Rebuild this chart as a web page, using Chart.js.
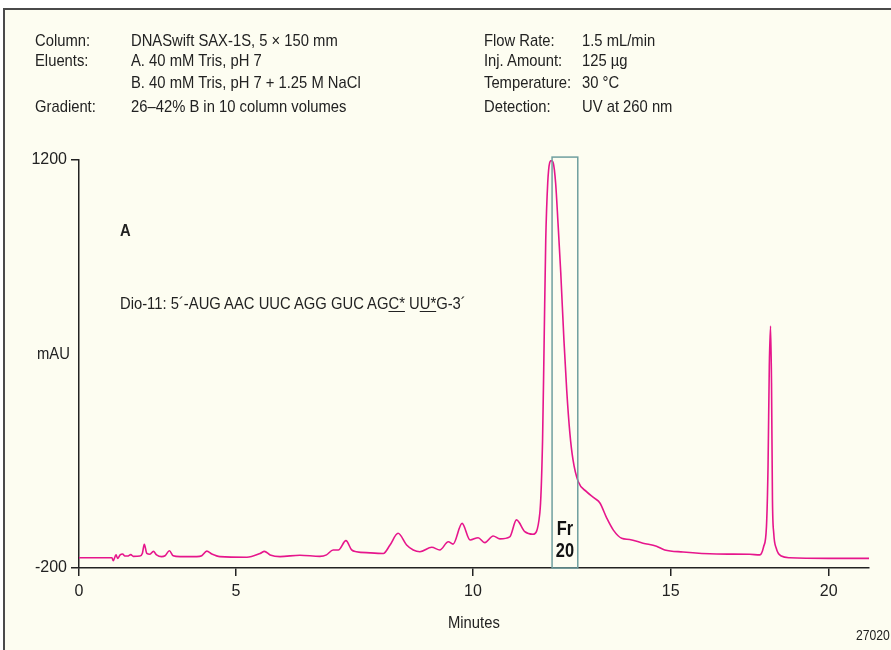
<!DOCTYPE html>
<html>
<head>
<meta charset="utf-8">
<script src="https://cdn.jsdelivr.net/npm/chart.js@4/dist/chart.umd.min.js"></script>
<style>
  body { margin: 0; background: #fff; }
  #wrap { position: relative; width: 891px; height: 650px; overflow: hidden; }
  #frame { position: absolute; left: 3px; top: 8px; width: 900px; height: 660px;
           background: #fdfdf1; border-left: 2px solid #4a4a4a; border-top: 2px solid #4a4a4a; }
  #chart { position: absolute; left: 0; top: 0; }
  /* condensed look: squeeze a plain sans horizontally */
  .t { position: absolute; font: 17px "Liberation Sans", Arial, sans-serif; color: #222;
       white-space: nowrap; line-height: 17px; transform: scaleX(0.87); transform-origin: 0 0; }
  .b { font-weight: bold; }
  u { text-decoration-thickness: 1px; text-underline-offset: 2px; }
</style>
</head>
<body>
<div id="wrap">
  <div id="frame"></div>
  <canvas id="chart" width="891" height="650"></canvas>

  <div class="t" style="left:35px;top:32px">Column:</div>
  <div class="t" style="left:131px;top:32px">DNASwift SAX-1S, 5 × 150 mm</div>
  <div class="t" style="left:35px;top:52px">Eluents:</div>
  <div class="t" style="left:131px;top:52px">A. 40 mM Tris, pH 7</div>
  <div class="t" style="left:131px;top:74px">B. 40 mM Tris, pH 7 + 1.25 M NaCl</div>
  <div class="t" style="left:35px;top:98px">Gradient:</div>
  <div class="t" style="left:131px;top:98px">26–42% B in 10 column volumes</div>

  <div class="t" style="left:484px;top:32px">Flow Rate:</div>
  <div class="t" style="left:582px;top:32px">1.5 mL/min</div>
  <div class="t" style="left:484px;top:52px">Inj. Amount:</div>
  <div class="t" style="left:582px;top:52px">125 µg</div>
  <div class="t" style="left:484px;top:74px">Temperature:</div>
  <div class="t" style="left:582px;top:74px">30 °C</div>
  <div class="t" style="left:484px;top:98px">Detection:</div>
  <div class="t" style="left:582px;top:98px">UV at 260 nm</div>

  <div class="t b" style="left:120px;top:222px">A</div>
  <div class="t" style="left:120px;top:295px">Dio-11: 5´-AUG AAC UUC AGG GUC AG<u>C*</u> U<u>U*</u>G-3´</div>
  <div class="t" style="left:37px;top:345px">mAU</div>
  <div class="t" style="left:448px;top:614px">Minutes</div>
  <div class="t" style="left:856px;top:628px;font-size:14px;line-height:14px">27020</div>
</div>

<script>
// chromatogram trace: retention time (min) and absorbance (mAU)
const minutes = [
  0, 1.05, 1.09, 1.18, 1.23, 1.31, 1.39, 1.46, 1.55, 1.65, 1.73, 1.94, 2.02, 2.08, 2.16, 2.26,
  2.37, 2.47, 2.63, 2.74, 2.88, 3.0, 3.22, 3.75, 3.91, 4.07, 4.23, 4.49, 5.23, 5.51, 5.6, 5.72,
  5.93, 6.35, 6.77, 6.91, 7.05, 7.16, 7.32, 7.44, 7.54, 7.83, 8.11, 8.25, 8.42, 8.6, 8.74, 8.88,
  9.13, 9.3, 9.48, 9.58, 9.77, 9.94, 10.13, 10.3, 10.51, 10.68, 10.93, 11.1, 11.31, 11.52, 11.69,
  11.76, 11.8, 11.84, 11.89, 11.94, 11.98, 12.03, 12.09, 12.15, 12.22, 12.3, 12.37, 12.45, 12.53,
  12.66, 12.87, 13.08, 13.21, 13.38, 13.55, 13.76, 13.96, 14.3, 14.64, 14.85, 15.39, 16.45, 17.5,
  17.82, 17.94, 18.03, 18.08, 18.12, 18.16, 18.19, 18.22, 18.26, 18.34, 18.5, 18.77, 20.0, 21.27
];
const absorbance = [
  -165, -165, -175, -155, -167, -155, -152, -159, -159, -154, -160, -159, -149, -119, -150, -153,
  -143, -155, -161, -158, -141, -158, -161, -161, -158, -142, -152, -161, -163, -150, -143, -155,
  -161, -156, -160, -155, -138, -138, -106, -138, -144, -148, -150, -121, -81, -121, -138, -144,
  -129, -138, -110, -118, -47, -104, -96, -113, -90, -100, -93, -35, -75, -84, -12,
  239, 582, 925, 1121, 1191, 1198, 1190, 1121, 984, 812, 582, 411, 263, 171,
  97, 62, 39, 23, -28, -70, -98, -102, -115, -125, -138, -145, -152, -153,
  -155, -127, -58, 148, 491, 630, 435, 33, -80, -132, -159, -165, -167, -167
];
const xTicks = [0, 5, 10, 15, 20];
const yTicks = [-200, 1200];
const fraction = { from: 12.0, to: 12.65, top: 1210, label: ['Fr', '20'] };

const FONT = '"Liberation Sans", Arial, sans-serif';
const INK = '#222';

// time axis of the recorder printout is not evenly spaced between labels
const STOPS = [[0, 0], [5, 0.1987], [10, 0.4987], [15, 0.749], [20, 0.949], [21.27, 1]];
function minToDec(v) {
  for (let i = 1; i < STOPS.length; i++) {
    const [a, fa] = STOPS[i - 1], [b, fb] = STOPS[i];
    if (v <= b || i === STOPS.length - 1) return fa + (v - a) / (b - a) * (fb - fa);
  }
}
function decToMin(d) {
  for (let i = 1; i < STOPS.length; i++) {
    const [a, fa] = STOPS[i - 1], [b, fb] = STOPS[i];
    if (d <= fb || i === STOPS.length - 1) return a + (d - fa) / (fb - fa) * (b - a);
  }
}
class MinuteScale extends Chart.LinearScale {
  getPixelForValue(value) {
    return value === null ? NaN : this.getPixelForDecimal(minToDec(value));
  }
  getValueForPixel(pixel) {
    return decToMin(this.getDecimalForPixel(pixel));
  }
}
MinuteScale.id = 'minutes';
MinuteScale.defaults = Chart.LinearScale.defaults;
Chart.register(MinuteScale);

// collected fraction: outlined box with its number
const fractionBox = {
  id: 'fractionBox',
  afterDatasetsDraw(chart) {
    const { ctx, scales: { x, y } } = chart;
    const l = x.getPixelForValue(fraction.from), r = x.getPixelForValue(fraction.to);
    const t = y.getPixelForValue(fraction.top), b = y.getPixelForValue(-200);
    ctx.save();
    ctx.strokeStyle = '#6f9f9f';
    ctx.lineWidth = 1.5;
    ctx.strokeRect(l, t, r - l, b - t);
    ctx.fillStyle = '#111';
    ctx.font = 'bold 20px ' + FONT;
    ctx.textAlign = 'center';
    ctx.textBaseline = 'alphabetic';
    ctx.translate((l + r) / 2, b);
    ctx.scale(0.82, 1);
    ctx.fillText(fraction.label[0], 0, -33);
    ctx.fillText(fraction.label[1], 0, -11);
    ctx.restore();
  }
};

new Chart(document.getElementById('chart'), {
  type: 'line',
  data: {
    datasets: [{
      data: minutes.map((m, i) => ({ x: m, y: absorbance[i] })),
      borderColor: '#e6168c',
      borderWidth: 1.6,
      pointRadius: 0,
      cubicInterpolationMode: 'monotone',
      fill: false
    }]
  },
  options: {
    responsive: false,
    animation: false,
    layout: { padding: { left: 0, top: 160, right: 22, bottom: 0 } },
    plugins: { legend: { display: false }, tooltip: { enabled: false } },
    scales: {
      x: {
        type: 'minutes', min: 0, max: 21.27,
        afterFit: s => { s.height = 82; },
        afterBuildTicks: s => { s.ticks = xTicks.map(v => ({ value: v })); },
        ticks: { font: { family: FONT, size: 16 }, color: INK, padding: 6, maxRotation: 0, autoSkip: false,
                 callback: v => String(v) },
        grid: { drawOnChartArea: false, tickLength: 8, color: INK, lineWidth: 1.5 },
        border: { color: INK, width: 1.5 }
      },
      y: {
        min: -200, max: 1200,
        afterFit: s => { s.width = 79; },
        afterBuildTicks: s => { s.ticks = yTicks.map(v => ({ value: v })); },
        ticks: { font: { family: FONT, size: 16 }, color: INK, padding: 4, callback: v => String(v) },
        grid: { drawOnChartArea: false, tickLength: 8, color: INK, lineWidth: 1.5 },
        border: { color: INK, width: 1.5 }
      }
    }
  },
  plugins: [fractionBox]
});
</script>
</body>
</html>
